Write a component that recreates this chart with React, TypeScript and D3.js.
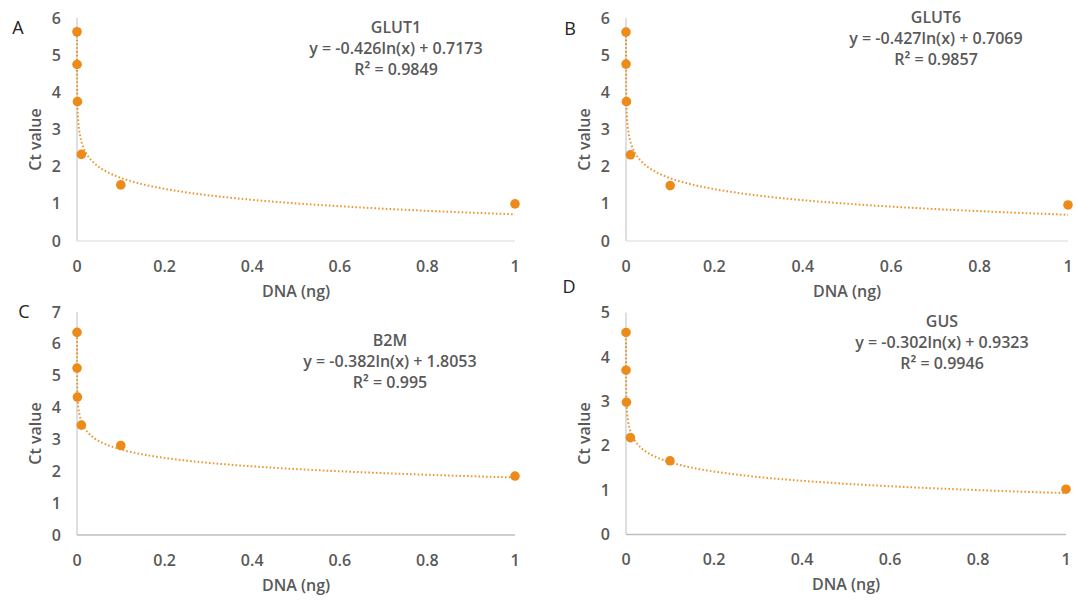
import React from "react";
import * as d3 from "d3";

// DNA amounts (ng) of the dilution series
const dnaNg = [0.00001, 0.0001, 0.001, 0.01, 0.1, 1];
const xTicks = [0, 0.2, 0.4, 0.6, 0.8, 1];

// Ct values
const glut1Ct = [5.63, 4.75, 3.75, 2.33, 1.51, 1.0];
const glut6Ct = [5.62, 4.76, 3.75, 2.32, 1.49, 0.97];
const b2mCt = [6.36, 5.24, 4.33, 3.45, 2.81, 1.85];
const gusCt = [4.55, 3.7, 2.98, 2.18, 1.66, 1.02];

// log trendline y = a ln(x) + b
const genes = ["GLUT1", "GLUT6", "B2M", "GUS"];
const slopes = [-0.426, -0.427, -0.382, -0.302];
const intercepts = [0.7173, 0.7069, 1.8053, 0.9323];
const rSquared = ["0.9849", "0.9857", "0.995", "0.9946"];
const yMaxes = [6, 6, 7, 5];
const letters = ["A", "B", "C", "D"];
const series = [glut1Ct, glut6Ct, b2mCt, gusCt];

const ORANGE = "#ED8B1A";
const TXT = "#595959";
const FONT = "'Open Sans', 'DejaVu Sans', sans-serif";

// where each panel sits on the page
const frames = [
  { x0: 77, x1: 515, y0: 241, y1: 18, lx: 18, ly: 28, tx: 396, ty: 27, xLine: "#e6e6e6" },
  { x0: 626, x1: 1068, y0: 241, y1: 18, lx: 570, ly: 29, tx: 936, ty: 17, xLine: "#e6e6e6" },
  { x0: 77, x1: 515, y0: 535, y1: 312, lx: 24, ly: 312, tx: 390, ty: 340, xLine: "#bfbfbf" },
  { x0: 626, x1: 1066, y0: 534.5, y1: 312.5, lx: 569, ly: 287, tx: 942, ty: 321, xLine: "#bfbfbf" },
];

function Panel({ i }: { i: number }) {
  const f = frames[i];
  const x = d3.scaleLinear().domain([0, 1]).range([f.x0, f.x1]);
  const y = d3.scaleLinear().domain([0, yMaxes[i]]).range([f.y0, f.y1]);
  const a = slopes[i];
  const b = intercepts[i];

  // sample the fitted curve on a log grid so the steep part is smooth
  const xs = d3.range(-5, 0.001, 0.02).map((e) => Math.pow(10, e));
  const trend = d3
    .line<number>()
    .x((d) => x(d))
    .y((d) => y(a * Math.log(d) + b))(xs);

  const yTicks = d3.range(0, yMaxes[i] + 1);
  const eq = `y = ${a.toFixed(3)}ln(x) + ${b.toFixed(4)}`;

  return (
    <g fontFamily={FONT}>
      <text x={f.lx} y={f.ly} dy="0.35em" textAnchor="middle" fontSize={18} fill="#222">
        {letters[i]}
      </text>
      <line x1={f.x0} x2={f.x0} y1={f.y0} y2={f.y1} stroke="#bfbfbf" strokeWidth={1} />
      <line x1={f.x0} x2={f.x1} y1={f.y0} y2={f.y0} stroke={f.xLine} strokeWidth={1.5} />
      {yTicks.map((t) => (
        <text key={"y" + t} x={f.x0 - 16} y={y(t)} dy="0.35em" textAnchor="end" fontSize={16} fontWeight={600} fill={TXT}>
          {t}
        </text>
      ))}
      {xTicks.map((t) => (
        <text key={"x" + t} x={x(t)} y={f.y0 + 25} dy="0.35em" textAnchor="middle" fontSize={16} fontWeight={600} fill={TXT}>
          {d3.format("~g")(t)}
        </text>
      ))}
      <text x={(f.x0 + f.x1) / 2} y={f.y0 + 50} dy="0.35em" textAnchor="middle" fontSize={16} fontWeight={600} fill={TXT}>
        DNA (ng)
      </text>
      <text
        transform={`translate(${f.x0 - 42},${(f.y0 + f.y1) / 2 + 10}) rotate(-90)`}
        dy="0.35em"
        textAnchor="middle"
        fontSize={16}
        fontWeight={600}
        fill={TXT}
      >
        Ct value
      </text>
      <path d={trend || ""} fill="none" stroke={ORANGE} strokeWidth={2} strokeDasharray="1.6 2.2" opacity={0.9} />
      {series[i].map((v, k) => (
        <circle key={k} cx={x(dnaNg[k])} cy={y(v)} r={4.8} fill={ORANGE} />
      ))}
      <g textAnchor="middle" fontSize={16} fontWeight={600} fill={TXT}>
        <text x={f.tx} y={f.ty} dy="0.35em">{genes[i]}</text>
        <text x={f.tx} y={f.ty + 21} dy="0.35em">{eq}</text>
        <text x={f.tx} y={f.ty + 42} dy="0.35em">{`R² = ${rSquared[i]}`}</text>
      </g>
    </g>
  );
}

export default function App() {
  return (
    <svg
      width={1079}
      height={602}
      style={{ position: "absolute", left: 0, top: 0, background: "#fff" }}
    >
      {frames.map((_, i) => (
        <Panel key={i} i={i} />
      ))}
    </svg>
  );
}
